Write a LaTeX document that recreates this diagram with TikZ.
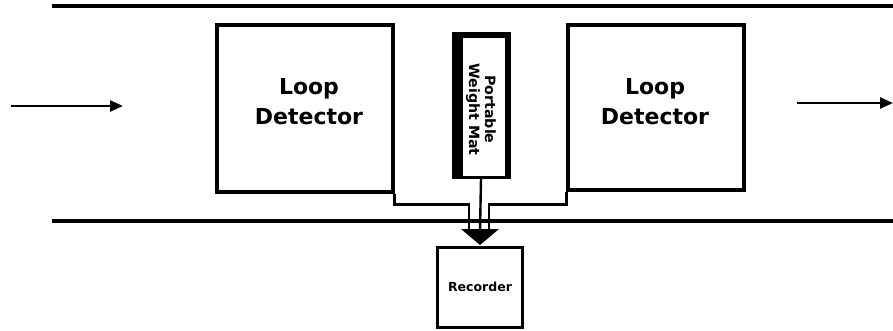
\documentclass[tikz,border=0pt]{standalone}
\usepackage{fontspec}
\setmainfont{DejaVu Sans}
\usetikzlibrary{arrows.meta}
\begin{document}
\begin{tikzpicture}[x=1pt,y=-1pt,
  road/.style={line width=3.8pt},
  boxst/.style={draw, line width=3.3pt, inner sep=0pt},
  wire/.style={line width=2.4pt},
  flow/.style={line width=2.4pt, -{Triangle[length=13pt,width=11pt]}},
  bigtxt/.style={font=\bfseries\fontsize{22}{30}\selectfont, align=center, inner sep=0pt}
]
\useasboundingbox (0,0) rectangle (893,330);
% road edges
\coordinate (rtl) at (52,6);
\coordinate (rtr) at (893,6);
\coordinate (rbl) at (52,221);
\coordinate (rbr) at (893,221);
\draw[road] (rtl) -- (rtr);
\draw[road] (rbl) -- (rbr);
% traffic arrows
\coordinate (a1s) at (11,106);
\coordinate (a1e) at (123,106);
\coordinate (a2s) at (797,103);
\coordinate (a2e) at (893,103);
\draw[flow] (a1s) -- (a1e);
\draw[flow] (a2s) -- (a2e);
% detectors
\node[boxst, minimum width=176pt, minimum height=167pt] (ld) at (305,108.5) {};
\node[bigtxt] (ldtxt) at (309,102) {Loop\\Detector};
\node[boxst, minimum width=176pt, minimum height=165pt] (rd) at (656,107.5) {};
\node[bigtxt] (rdtxt) at (655,101.5) {Loop\\Detector};
% weight mat
\node[draw, line width=3pt, minimum width=56pt, minimum height=144pt, inner sep=0pt] (mat) at (481,105) {};
\fill (mat.north west) rectangle ([xshift=11pt]mat.south west);
\fill (mat.north west) rectangle ([yshift=-6pt]mat.north east);
\fill (mat.north east) rectangle ([xshift=-6pt]mat.south east);
\node[rotate=-90, align=center, inner sep=0pt, font=\bfseries\fontsize{14.2}{16}\selectfont] (mattxt) at (481,109.5) {Portable\\Weight Mat};
% recorder
\node[boxst, line width=3pt, minimum width=85pt, minimum height=80pt, font=\bfseries\fontsize{12.5}{14}\selectfont] (rec) at (480,287) {Recorder};
% wiring
\coordinate (jl) at (469,231);
\coordinate (jm) at (480,231);
\coordinate (jr) at (489,231);
\draw[wire] (ld.south east) -- ++(0,11) -| (jl);
\draw[wire] (rd.south west) -- ++(0,13) -| (jr);
\draw[wire] (mat.south) -- (jm);
\coordinate (tl) at (461,229);
\coordinate (tr) at (499,229);
\coordinate (tip) at (480,245);
\fill (tl) -- (tr) -- (tip) -- cycle;
\end{tikzpicture}
\end{document}
